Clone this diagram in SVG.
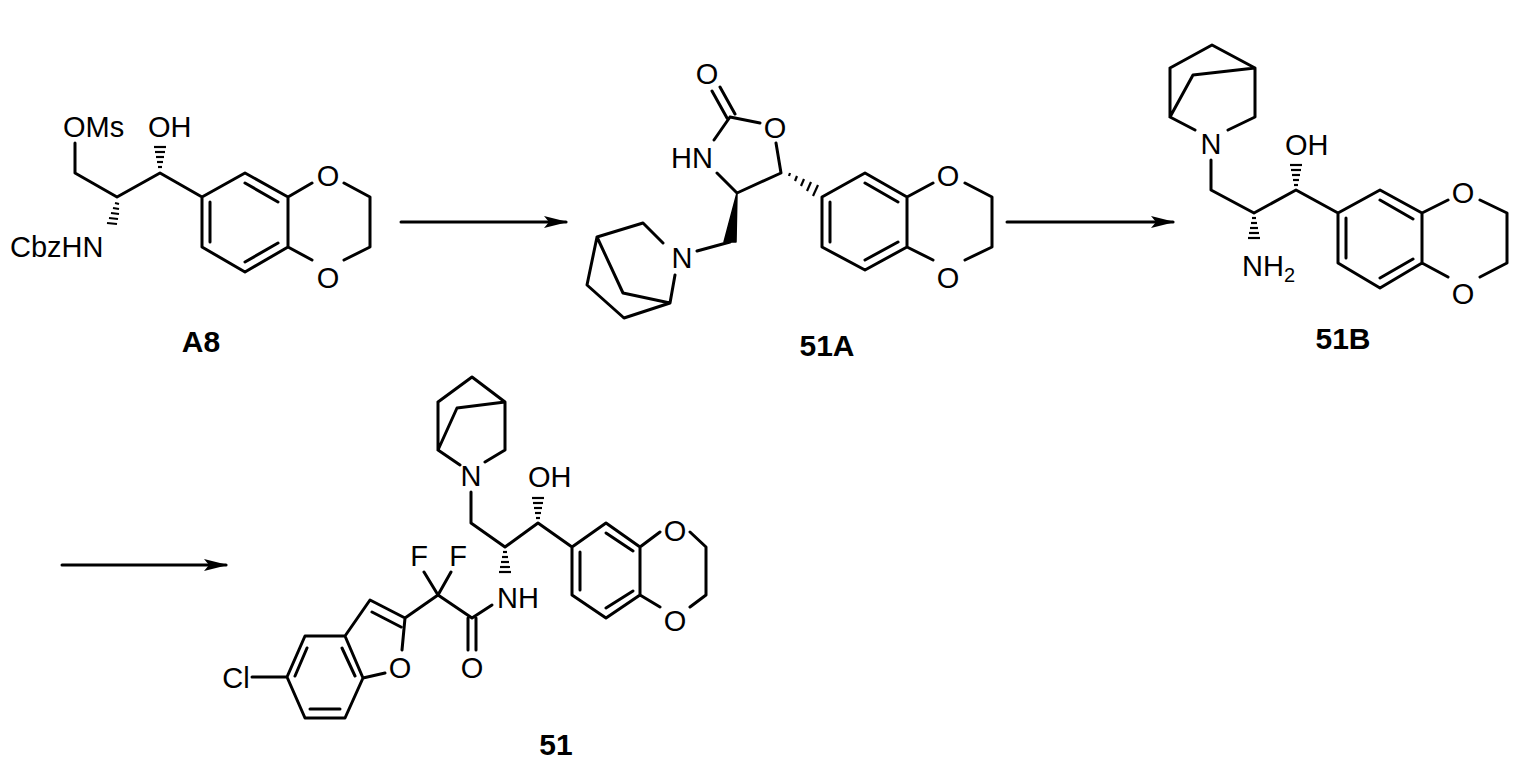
<svg xmlns="http://www.w3.org/2000/svg" width="1519" height="768" viewBox="0 0 1519 768">
<style>
.b{stroke:#000;stroke-width:3;fill:none;stroke-linecap:round;stroke-linejoin:round}
.h{stroke:#000;stroke-width:2.2}
text{font-family:"Liberation Sans",Arial,sans-serif;font-size:29px;fill:#000}
.c{text-anchor:middle}
.l{font-weight:bold;font-size:30px;text-anchor:middle}
</style>
<defs><marker id="ah" markerWidth="24" markerHeight="12" refX="22" refY="6" orient="auto" markerUnits="userSpaceOnUse"><path d="M0,0 L24,6 L0,12 L5,6 Z" fill="#000"/></marker></defs>
<rect width="1519" height="768" fill="#fff"/>
<g id="connectors">
<line class="b" x1="401" y1="222" x2="566" y2="222" marker-end="url(#ah)"/>
<line class="b" x1="1007" y1="222" x2="1173" y2="222" marker-end="url(#ah)"/>
<line class="b" x1="62" y1="565" x2="226" y2="565" marker-end="url(#ah)"/>
</g>
<g id="A8">
<path class="b" d="M75,143 L75,173 L117,197 L160,173 L202,197 M202,197 L245,173 L288,197 L288,247 L245,272 L202,247 Z M245,183 L278,202 M210,202 L210,242 M245,262 L278,243 M288,197 L312,183 M288,247 L312,260 M344,183 L370,197 L370,247 L344,260"/>
<g class="h"><line x1="158" y1="167" x2="162" y2="167"/><line x1="157" y1="162" x2="163" y2="162"/><line x1="156" y1="157" x2="164" y2="157"/><line x1="155" y1="152" x2="165" y2="152"/><line x1="154" y1="147" x2="166" y2="147"/></g>
<g class="h"><line x1="115" y1="203" x2="119" y2="204"/><line x1="113" y1="208" x2="119" y2="209"/><line x1="111" y1="213" x2="119" y2="214"/><line x1="109" y1="218" x2="118" y2="219"/><line x1="107" y1="223" x2="117" y2="224"/></g>
<text x="63" y="137">OMs</text><text x="148" y="137">OH</text>
<text x="10" y="257">CbzHN</text>
<text class="c" x="328" y="186">O</text><text class="c" x="328" y="288">O</text>
<text class="l" x="201" y="352">A8</text>
</g>
<g id="51A">
<path class="b" d="M712,91 L727,118 M720,87 L735,114 M730,117 L760,123 M776,143 L781,173 L737,193 L717,173 M714,140 L730,117 M730,242 L697,251 M663,243 L643,223 L597,237 L587,285 L624,318 L670,303 L675,275 M597,237 L623,293 L670,303 M822,197 L865,173 L907,197 L907,247 L865,270 L822,247 Z M865,183 L898,202 M830,202 L830,242 M865,260 L898,242 M907,197 L933,183 M907,247 L933,260 M965,183 L992,197 L992,247 L965,260"/>
<path d="M737,193 L724,242 L736,242 Z" fill="#000" stroke="#000" stroke-width="1.5" stroke-linejoin="round"/>
<g class="h"><line x1="789" y1="176" x2="790" y2="173"/><line x1="795" y1="181" x2="797" y2="176"/><line x1="801" y1="186" x2="804" y2="179"/><line x1="807" y1="191" x2="811" y2="182"/><line x1="813" y1="196" x2="818" y2="185"/></g>
<text class="c" x="707" y="84">O</text><text class="c" x="775" y="138">O</text>
<text class="c" x="692" y="168">HN</text><text class="c" x="682" y="268">N</text>
<text class="c" x="948" y="186">O</text><text class="c" x="948" y="288">O</text>
<text class="l" x="827" y="356">51A</text>
</g>
<g id="51B">
<path class="b" d="M1170,68 L1212,45 L1255,68 L1255,117 L1228,130 M1170,68 L1170,117 L1195,130 M1170,117 L1193,75 L1255,68 M1211,160 L1211,190 L1254,213 L1296,190 L1338,213 M1338,213 L1380,190 L1422,213 L1422,263 L1380,288 L1338,263 Z M1380,200 L1413,219 M1346,218 L1346,258 M1380,278 L1413,259 M1422,213 L1448,200 M1422,263 L1448,277 M1480,200 L1507,213 L1507,263 L1480,277"/>
<g class="h"><line x1="1294" y1="185" x2="1298" y2="185"/><line x1="1293" y1="180" x2="1299" y2="180"/><line x1="1292" y1="175" x2="1300" y2="175"/><line x1="1291" y1="170" x2="1301" y2="170"/><line x1="1290" y1="165" x2="1302" y2="165"/></g>
<g class="h"><line x1="1252" y1="218" x2="1256" y2="218"/><line x1="1251" y1="223" x2="1257" y2="223"/><line x1="1250" y1="228" x2="1258" y2="228"/><line x1="1249" y1="233" x2="1259" y2="233"/><line x1="1248" y1="238" x2="1260" y2="238"/></g>
<text class="c" x="1211" y="154">N</text><text x="1285" y="155">OH</text>
<text x="1242" y="276">NH<tspan font-size="20" dy="6">2</tspan></text>
<text class="c" x="1463" y="203">O</text><text class="c" x="1463" y="304">O</text>
<text class="l" x="1343" y="349">51B</text>
</g>
<g id="51">
<path class="b" d="M438,402 L472,377 L505,402 L505,450 L485,462 M438,402 L438,450 L460,465 M438,450 L457,408 L505,402 M471,492 L471,523 L505,547 L538,523 L572,547 M572,547 L606,523 L640,547 L640,595 L606,618 L572,595 Z M606,533 L633,551 M580,552 L580,590 M606,608 L633,591 M640,547 L660,532 M640,595 L660,607 M690,532 L706,547 L706,595 L690,607 M492,605 L472,618 M468,618 L468,650 M476,618 L476,650 M472,618 L438,595 L424,572 M438,595 L451,572 M438,595 L405,618 L370,600 L345,636 L305,636 L287,677 L305,718 L345,718 L363,678 L345,636 M401,627 L372,612 M307,648 L295,676 M310,709 L340,709 M342,648 L355,676 M405,618 L402,650 M385,673 L363,678 M252,677 L287,677"/>
<g class="h"><line x1="536" y1="518" x2="540" y2="518"/><line x1="535" y1="513" x2="541" y2="513"/><line x1="534" y1="508" x2="542" y2="508"/><line x1="533" y1="503" x2="543" y2="503"/><line x1="532" y1="498" x2="544" y2="498"/></g>
<g class="h"><line x1="503" y1="552" x2="507" y2="552"/><line x1="502" y1="557" x2="508" y2="557"/><line x1="501" y1="562" x2="509" y2="562"/><line x1="500" y1="567" x2="510" y2="567"/><line x1="499" y1="572" x2="511" y2="572"/></g>
<text class="c" x="471" y="486">N</text><text x="528" y="487">OH</text>
<text x="497" y="608">NH</text>
<text class="c" x="419" y="566">F</text><text class="c" x="458" y="566">F</text>
<text class="c" x="472" y="678">O</text><text class="c" x="400" y="678">O</text>
<text class="c" x="236" y="688">Cl</text>
<text class="c" x="675" y="541">O</text><text class="c" x="675" y="631">O</text>
<text class="l" x="556" y="755">51</text>
</g>
</svg>
